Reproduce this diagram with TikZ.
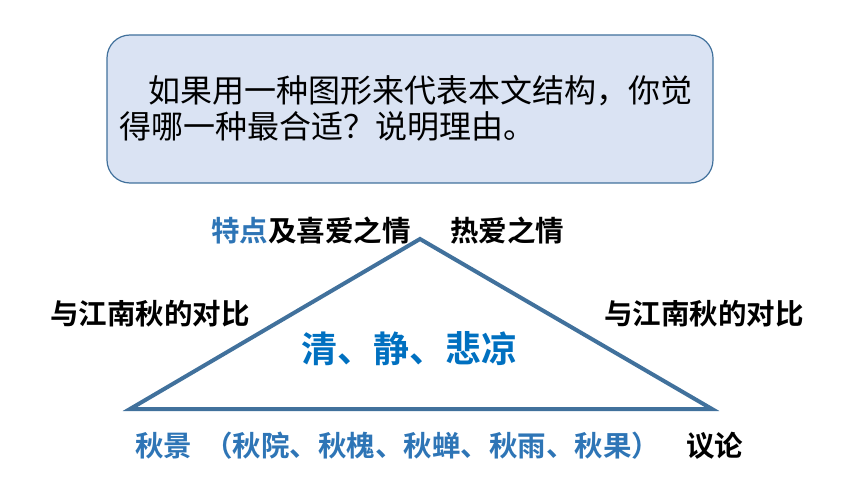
\documentclass[tikz,border=0pt]{standalone}
\usepackage{fontspec}
\newfontfamily\cjk[BoldFont={Noto Sans CJK SC Bold}]{Noto Sans CJK SC}
\definecolor{tri}{HTML}{41719C}
\definecolor{boxfill}{HTML}{DAE3F3}
\definecolor{lblue}{HTML}{2E75B6}
\definecolor{kblue}{HTML}{0070C0}
\tikzset{
  txt/.style={inner sep=0pt, anchor=base west},
  lbl/.style={txt, font=\cjk\bfseries\fontsize{28.5}{30}\selectfont},
  qtxt/.style={txt, font=\cjk\fontsize{32}{34}\selectfont},
}
\begin{document}
\begin{tikzpicture}[x=1pt,y=-1pt]
\useasboundingbox (0,0) rectangle (860,484);
% question box
\draw[fill=boxfill, draw=tri, line width=1.2pt, rounded corners=23pt] (107,35) rectangle (713,183);
\node[qtxt] (q1) at (148,103) {如果用一种图形来代表本文结构，你觉};
\node[qtxt] (q2) at (119,139) {得哪一种最合适？说明理由。};
% triangle
\coordinate (apex) at (420,239);
\coordinate (bl) at (130,409);
\coordinate (br) at (712,409);
\draw[tri, line width=4pt, line join=miter] (apex) -- (br) -- (bl) -- cycle;
% labels
\node[lbl] (top1) at (211,241) {\textcolor{lblue}{特点}及喜爱之情};
\node[lbl] (top2) at (450,241) {热爱之情};
\node[lbl] (left) at (50,324) {与江南秋的对比};
\node[lbl] (right) at (604,324) {与江南秋的对比};
\node[txt, font=\cjk\bfseries\fontsize{36}{38}\selectfont, text=kblue] (mid) at (301,362) {清、静、悲凉};
\node[lbl, text=lblue] (bottom) at (135,456) {秋景\hspace{12pt}（秋院、秋槐、秋蝉、秋雨、秋果）};
\node[lbl] (yilun) at (686,456) {议论};
\end{tikzpicture}
\end{document}
